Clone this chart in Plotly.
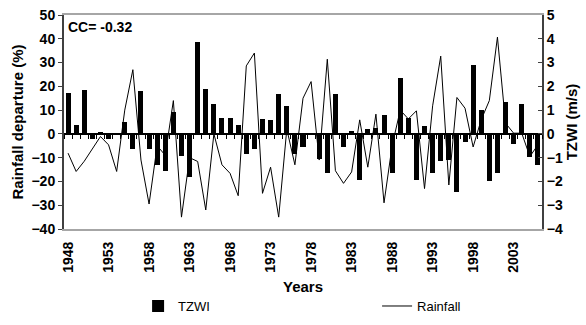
import plotly.graph_objects as go

years = list(range(1948, 2007))
tzwi = [1.74, 0.38, 1.85, -0.22, 0.08, -0.22, -0.05, 0.48, -0.62, 1.80,
        -0.62, -1.30, -1.54, 0.93, -0.93, -1.80, 3.87, 1.88, 1.26, 0.66,
        0.66, 0.37, -0.84, -0.65, 0.61, 0.57, 1.68, 1.17, -0.85, -0.54,
        -0.04, -1.07, -1.64, 1.68, -0.54, 0.14, -1.96, 0.19, 0.23, 0.79,
        -1.63, 2.35, 0.66, -1.92, 0.33, -1.63, -1.13, -1.10, -2.46, -0.33,
        2.88, 1.00, -2.00, -1.64, 1.35, -0.41, 1.25, -0.96, -1.30]
rainfall = [-8.1, -15.8, -11.5, -6.5, -1.1, -4.6, -15.8, 10.0, 27.0, -11.0,
            -29.5, -5.0, -9.0, 14.0, -35.0, -10.0, -11.6, -32.0, 0.0, -13.0,
            -16.6, -26.0, 28.6, 34.0, -25.0, -14.0, -35.0, 2.0, -13.0, 15.0,
            22.0, -11.0, 31.4, -15.5, -20.8, -16.0, 5.9, -14.0, 8.3, -29.0,
            -5.0, 10.0, 6.3, 9.7, -23.0, 11.8, 32.7, -21.5, 15.3, 10.8,
            -5.5, 6.0, 14.0, 40.7, 4.5, 0.3, 0.3, -9.5, -4.6]
label_years = list(range(1948, 2004, 5))
boundaries = [y - 0.5 for y in range(1948, 2008)]

FONT = "Liberation Sans, Arial, sans-serif"
xr = [1947.5, 2006.5]
TICK = dict(family=FONT, size=14, weight="bold")
TITLE = dict(family=FONT, size=15, weight="bold")

fig = go.Figure()
fig.add_trace(go.Scatter(x=years, y=rainfall, mode="lines", name="Rainfall",
                         line=dict(color="black", width=1), xaxis="x", yaxis="y",
                         legend="legend2"))
fig.add_trace(go.Bar(x=years, y=tzwi, name="TZWI", marker=dict(color="black", line=dict(width=0)),
                     width=0.62, xaxis="x", yaxis="y2", legend="legend"))
fig.add_trace(go.Scatter(x=[years[0]], y=[0], mode="markers", marker=dict(opacity=0),
                         showlegend=False, hoverinfo="skip", xaxis="x2", yaxis="y"))

legend_common = dict(orientation="h", yanchor="middle", xanchor="left",
                     font=dict(size=13, family=FONT), bgcolor="rgba(0,0,0,0)")

fig.update_layout(
    width=586, height=325,
    margin=dict(l=64, r=44, t=15, b=96, autoexpand=False),
    paper_bgcolor="white", plot_bgcolor="white",
    font=dict(family=FONT, size=13, color="black"),
    showlegend=True,
    legend=dict(x=0.155, y=-0.36, **legend_common),
    legend2=dict(x=0.655, y=-0.36, **legend_common),
    bargap=0,
    xaxis=dict(range=xr, anchor="free", position=40/90, showline=True, linecolor="black",
               linewidth=1.5, tickmode="array", tickvals=boundaries, ticks="outside",
               ticklen=4, tickcolor="black", tickwidth=1, showticklabels=False,
               showgrid=False, zeroline=False),
    xaxis2=dict(range=xr, overlaying="x", anchor="y", side="bottom", tickmode="array",
                tickvals=label_years, ticktext=[str(y) for y in label_years],
                tickangle=-90, ticks="outside", ticklen=5, tickcolor="rgba(0,0,0,0)",
                tickfont=TICK,
                showline=True, linecolor="#a6a6a6", linewidth=2, mirror=True,
                showgrid=False, zeroline=False,
                title=dict(text="Years", font=TITLE, standoff=10)),
    yaxis=dict(range=[-40, 50], dtick=10, showline=True, linecolor="#404040", linewidth=2,
               ticks="outside", ticklen=4, tickcolor="#404040", showgrid=False, zeroline=False,
               tickfont=TICK,
               title=dict(text="Rainfall departure (%)", font=TITLE, standoff=4)),
    yaxis2=dict(range=[-4, 5], dtick=1, overlaying="y", side="right", anchor="x",
                showline=True, linecolor="#404040", linewidth=2, ticks="inside", ticklen=4,
                tickcolor="#404040", showgrid=False, zeroline=False,
                tickfont=TICK,
                title=dict(text="TZWI (m/s)", font=TITLE, standoff=4)),
    annotations=[dict(text="CC= -0.32", x=0.005, y=0.99, xref="paper", yref="paper",
                      xanchor="left", yanchor="top", showarrow=False,
                      font=dict(family=FONT, size=14, weight="bold"))],
)

fig.write_html("out.html")
